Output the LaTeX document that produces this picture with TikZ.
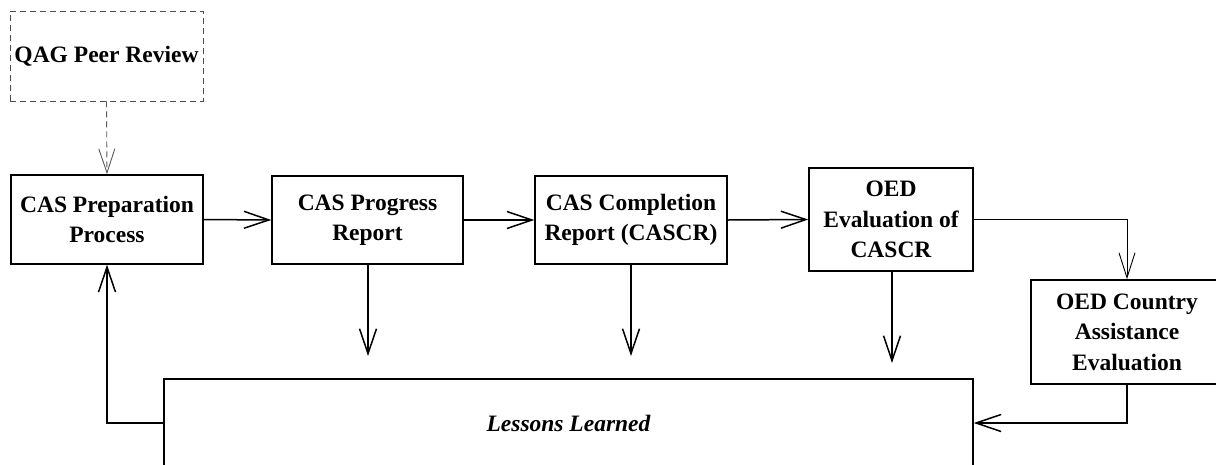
\documentclass[tikz,border=0pt]{standalone}
\usepackage{fontspec}
\setmainfont{Liberation Serif}
\usetikzlibrary{arrows.meta,calc}
\begin{document}
\begin{tikzpicture}[x=1pt,y=-1pt,
  box/.style={draw,line width=1.5pt,align=center,inner sep=0pt,
    font=\bfseries\fontsize{23.5}{30.5}\selectfont},
  conn/.style={line width=1.5pt,-{Straight Barb[length=25pt,width=17pt,line width=1.5pt]}},
  thinconn/.style={line width=0.9pt,-{Straight Barb[length=25pt,width=16pt,line width=0.9pt]}},
  dashconn/.style={line width=0.9pt,draw=black!65,dash pattern=on 6pt off 4pt,
    -{Straight Barb[length=24pt,width=16pt,line width=0.9pt]}}]
\useasboundingbox (0,0) rectangle (1216,464);
\clip (0,0) rectangle (1216,464);
\fill[white] (0,0) rectangle (1216,464);

\node[box,draw=black!70,line width=0.9pt,dash pattern=on 6pt off 4pt,minimum width=193pt,minimum height=90pt] (qag) at (106.5,56) {QAG Peer Review};
\node[box,minimum width=192pt,minimum height=89pt] (prep) at (107,219.5) {CAS Preparation\\Process};
\node[box,minimum width=191pt,minimum height=88pt] (prog) at (367.5,220) {CAS Progress\\Report};
\node[box,minimum width=192pt,minimum height=88pt] (comp) at (631,220) {CAS Completion\\Report (CASCR)};
\node[box,minimum width=164pt,minimum height=103pt] (oed) at (891,219.5) {OED\\Evaluation of\\CASCR};
\node[box,minimum width=192pt,minimum height=104pt] (ctry) at (1127,332) {OED Country\\Assistance\\Evaluation};
\node[box,minimum width=809pt,minimum height=88pt,font=\bfseries\itshape\fontsize{23.5}{30.5}\selectfont] (lessons) at (568.5,423) {Lessons Learned};

\coordinate (progEnd) at (368,356);
\coordinate (compEnd) at (631,356);
\coordinate (oedEnd) at (892,363);

\draw[dashconn] (qag.south) -- (prep.north);
\draw[conn] (prep.east) -- (prog.west);
\draw[conn] (prog.east) -- (comp.west);
\draw[conn] (comp.east) -- (oed.west);
\draw[thinconn] (oed.east) -| (ctry.north);
\draw[conn] (prog.south -| progEnd) -- (progEnd);
\draw[conn] (comp.south) -- (compEnd);
\draw[conn] (oed.south -| oedEnd) -- (oedEnd);
\draw[conn] (ctry.south) |- (lessons.east);
\draw[conn] (lessons.west) -| (prep.south);
\end{tikzpicture}
\end{document}
